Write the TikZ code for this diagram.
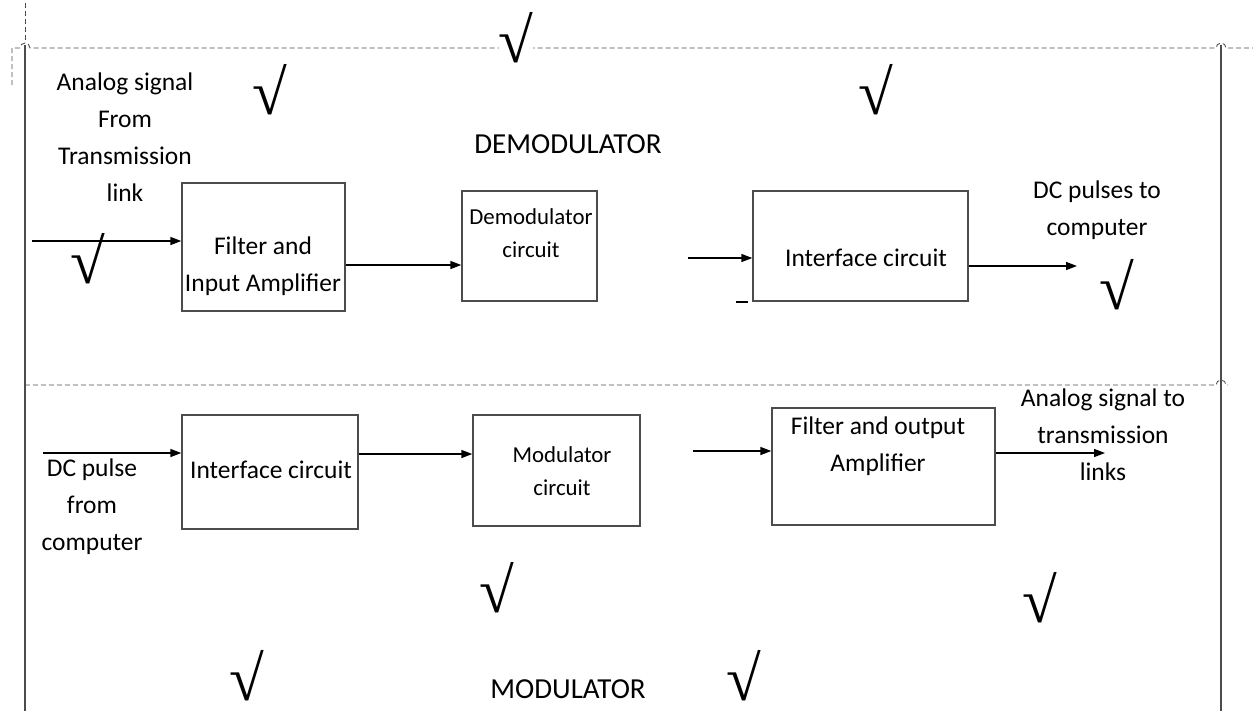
\documentclass[tikz,border=0pt]{standalone}
\usepackage{fontspec}
\setmainfont{Carlito}
\newfontfamily\tickfont{Liberation Serif}
\usetikzlibrary{
    arrows.meta,
    positioning
}
\tikzset{
    block/.style={draw=black!70, line width=0.8pt, rectangle, inner sep=0pt},
    txt/.style={align=center, inner sep=0pt, font=\fontsize{14.5}{21}\selectfont},
    small/.style={txt, font=\fontsize{13}{19}\selectfont},
    title/.style={txt, font=\fontsize{16.5}{21}\selectfont},
    sig/.style={line width=0.8pt, -{Triangle[length=0.22cm, width=0.16cm]}},
    sep/.style={draw=black!70, line width=0.5pt, dash pattern=on 0.1cm off 0.06cm},
    wall/.style={draw=black!70, line width=0.7pt},
    tick/.style={inner sep=0pt, font=\tickfont\fontsize{36}{36}\selectfont}
}
\begin{document}
\begin{tikzpicture}[x=0.02cm, y=-0.02cm]
    \useasboundingbox (0,0) rectangle (1253,711);

    % frame and separators
    \draw[sep] (12,85) -- (12,48) -- (20,48) arc (180:0:0.1cm) -- (1216,48) arc (180:0:0.1cm) -- (1253,48);
    \draw[sep] (25,3) -- (25,40);
    \draw[wall] (25,45) -- (25,711);
    \draw[wall] (1221,45) -- (1221,711);
    \draw[sep] (25,385) -- (1216,385) arc (180:0:0.1cm) -- (1228,385);

    % demodulator
    \node[block, minimum width=3.26cm, minimum height=2.56cm] (fia) at (263.5,247) {};
    \node[block, minimum width=2.70cm, minimum height=2.20cm] (dmc) at (529.5,246) {};
    \node[block, minimum width=4.30cm, minimum height=2.20cm] (ifo) at (860.5,246) {};
    \node[txt] (fiaT) at (263,266) {Filter and\\Input Amplifier};
    \node[small] (dmcT) at (531,233) {Demodulator\\circuit};
    \node[txt] (ifoT) at (866,258) {Interface circuit};
    \node[txt] (dsin) at (125,137) {Analog signal\\From\\Transmission\\link};
    \node[txt] (dsout) at (1097,210) {DC pulses to\\computer};
    \node[title] (demod) at (568,144) {DEMODULATOR};

    \coordinate (din) at (32,241);
    \coordinate (dmid) at (688,258);
    \coordinate (dout) at (1077,266);
    \draw[sig] (din) -- (din -| fia.west);
    \draw[sig] (fia.east |- 0,265) -- (dmc.west |- 0,265);
    \draw[sig] (dmid) -- (dmid -| ifo.west);
    \draw[sig] (ifo.east |- dout) -- (dout);
    \draw[line width=0.8pt] (736,302) -- (748,302);

    % modulator
    \node[block, minimum width=3.52cm, minimum height=2.28cm] (ifi) at (270,472) {};
    \node[block, minimum width=3.34cm, minimum height=2.22cm] (mdc) at (556.5,470.5) {};
    \node[block, minimum width=4.46cm, minimum height=2.34cm] (foa) at (883.5,466.5) {};
    \node[txt] (ifiT) at (271,470) {Interface circuit};
    \node[small] (mdcT) at (562,471) {Modulator\\circuit};
    \node[txt] (foaT) at (878,446) {Filter and output\\Amplifier};
    \node[txt] (msin) at (92,507) {DC pulse\\from\\computer};
    \node[txt] (msout) at (1103,435) {Analog signal to\\transmission\\links};
    \node[title] (mod) at (568,689) {MODULATOR};

    \coordinate (min) at (43,453);
    \coordinate (mmid) at (693,451);
    \coordinate (mout) at (1105,453);
    \draw[sig] (min) -- (min -| ifi.west);
    \draw[sig] (ifi.east |- 0,454) -- (mdc.west |- 0,454);
    \draw[sig] (mmid) -- (mmid -| foa.west);
    \draw[sig] (foa.east |- mout) -- (mout);

    % ticks
    \node[tick, fill=white] (t1) at (516,38) {√};
    \node[tick] (t2) at (270,90) {√};
    \node[tick] (t3) at (876,90) {√};
    \node[tick] (t4) at (88,259) {√};
    \node[tick] (t5) at (1117,285) {√};
    \node[tick] (t6) at (497,588) {√};
    \node[tick] (t7) at (1040,598) {√};
    \node[tick] (t8) at (247,676) {√};
    \node[tick] (t9) at (744,676) {√};
\end{tikzpicture}
\end{document}
